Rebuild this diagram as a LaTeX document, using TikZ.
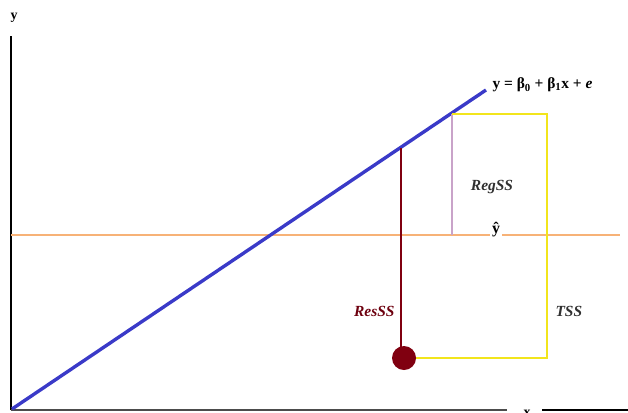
\documentclass[tikz,border=0pt]{standalone}
\usepackage{fontspec}
\setmainfont{Liberation Serif}
\usepackage{tikz}
\definecolor{fitB}{HTML}{3A3AC8}
\definecolor{meanO}{HTML}{F7B277}
\definecolor{totY}{HTML}{F2E51C}
\definecolor{regP}{HTML}{C9A3C9}
\definecolor{resR}{HTML}{800010}
\definecolor{labG}{HTML}{303030}

\begin{document}
\begin{tikzpicture}[x=1bp, y=-1bp, font=\bfseries\fontsize{14}{16}\selectfont,
    sslab/.style={font=\bfseries\itshape\fontsize{15.5}{17}\selectfont, text=labG}]
  \path[use as bounding box] (0,0) rectangle (628,412);

  % axes
  \coordinate (O) at (11,410);
  \coordinate (ytop) at (11,36);
  \coordinate (xmid) at (507,410);
  \coordinate (xrest) at (542,410);
  \coordinate (xend) at (628,410);
  \draw[line width=3pt] (O) -- (ytop);
  \draw[black!70, line width=1.4pt] (O) -- (xmid);
  \draw[line width=2.4pt] (xrest) -- (xend);
  \node (ylab) at (14,18) {y};
  \node[anchor=base] (xlab) at (527,416) {x};

  % mean line, broken by the y-hat label
  \coordinate (mL) at (11,235);
  \coordinate (mR) at (620,235);
  \draw[meanO, line width=1.4pt] (mL) -- (mR);
  \node[fill=white, inner sep=2.5pt, font=\bfseries\fontsize{16}{18}\selectfont]
    (yhat) at (496,230) {ŷ};

  % fitted line
  \coordinate (fitS) at (12,409);
  \coordinate (fitE) at (486,90);
  \draw[fitB, line width=3.4pt] (fitS) -- (fitE);
  \node[anchor=west, font=\bfseries\fontsize{15.5}{17}\selectfont] (eq) at (489,85)
    {y\ =\ β\textsubscript{0}\ +\ β\textsubscript{1}x\ +\ \textit{e}};

  % regression part
  \coordinate (regT) at (452,114);
  \coordinate (regB) at (452,235);
  \draw[regP, line width=1.4pt] (regT) -- (regB);
  \node[sslab] (regss) at (492,187) {RegSS};

  % total: yellow bracket from fitted point down to the observation
  \coordinate (totTR) at (547,114);
  \coordinate (totBR) at (547,358);
  \coordinate (obs) at (404,358);
  \draw[totY, line width=2.4pt] (regT) -- (totTR) -- (totBR) -- (obs);
  \node[sslab, anchor=west] (tss) at (552,311) {TSS};

  % residual
  \coordinate (resT) at (401,148);
  \draw[resR, line width=2pt] (resT) -- (401,358);
  \fill[resR] (obs) circle (12);
  \node[sslab, text=resR!85!black, anchor=east] (resss) at (398,311) {ResSS};
\end{tikzpicture}
\end{document}
